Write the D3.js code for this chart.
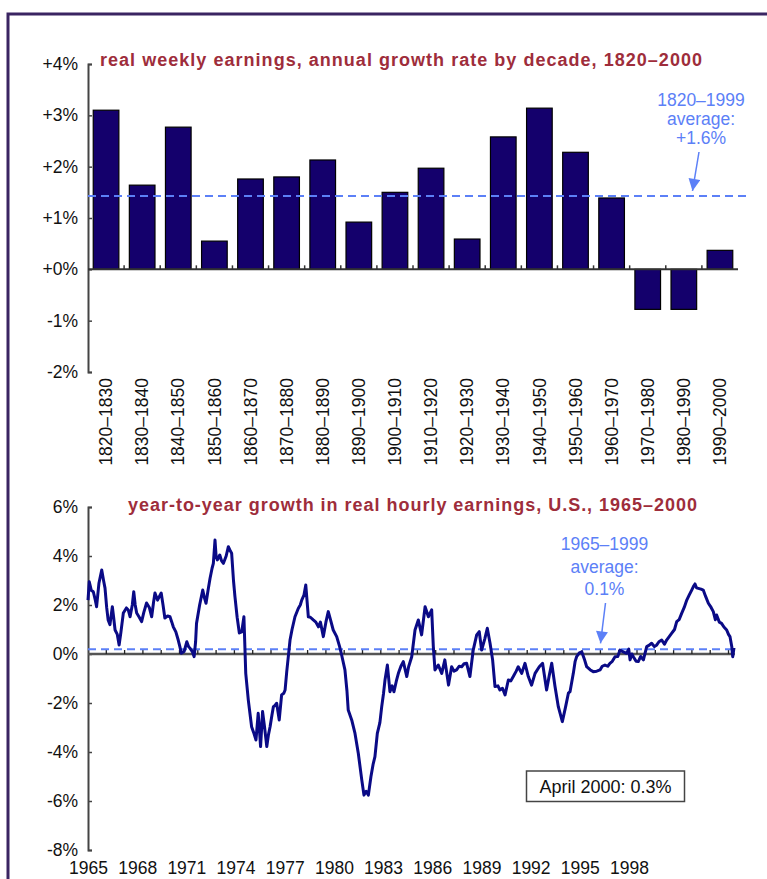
<!DOCTYPE html>
<html><head><meta charset="utf-8">
<script src="https://cdn.jsdelivr.net/npm/d3@7"></script>
<style>
html,body{margin:0;padding:0;background:#fff;}
svg{display:block;font-family:"Liberation Sans",Arial,Helvetica,sans-serif;}
</style></head><body>
<svg id="chart" width="767" height="879"></svg>
<script>
// ---------- DATA ----------
const decades = ["1820–1830","1830–1840","1840–1850","1850–1860","1860–1870","1870–1880","1880–1890","1890–1900","1900–1910","1910–1920","1920–1930","1930–1940","1940–1950","1950–1960","1960–1970","1970–1980","1980–1990","1990–2000"];
const weeklyGrowth = [3.1,1.64,2.77,0.55,1.76,1.8,2.13,0.92,1.5,1.97,0.59,2.58,3.14,2.28,1.39,-0.78,-0.78,0.37];
const weeklyTicks = [4,3,2,1,0,-1,-2];
const weeklyAverage = 1.43;
const weeklyAvgLabel = ["1820–1999","average:","+1.6%"];
const weeklyTitle = "real weekly earnings, annual growth rate by decade, 1820–2000";

const hourlyDates = [1965.00,1965.07,1965.18,1965.29,1965.40,1965.47,1965.60,1965.75,1965.85,1965.93,1966.02,1966.10,1966.20,1966.33,1966.40,1966.48,1966.60,1966.70,1966.80,1966.93,1967.10,1967.20,1967.30,1967.42,1967.50,1967.58,1967.66,1967.80,1967.93,1968.05,1968.20,1968.35,1968.48,1968.58,1968.66,1968.80,1969.00,1969.10,1969.20,1969.35,1969.48,1969.58,1969.66,1969.80,1969.93,1970.02,1970.10,1970.25,1970.40,1970.50,1970.57,1970.70,1970.80,1970.88,1970.93,1971.10,1971.27,1971.36,1971.45,1971.56,1971.67,1971.78,1971.85,1971.94,1972.00,1972.07,1972.20,1972.30,1972.40,1972.55,1972.67,1972.78,1972.85,1972.95,1973.03,1973.15,1973.27,1973.40,1973.52,1973.62,1973.76,1973.94,1974.05,1974.18,1974.30,1974.36,1974.43,1974.54,1974.65,1974.77,1974.86,1974.95,1975.05,1975.13,1975.22,1975.31,1975.45,1975.58,1975.70,1975.77,1975.86,1976.04,1976.15,1976.31,1976.49,1976.60,1976.68,1976.80,1976.90,1977.04,1977.15,1977.31,1977.45,1977.59,1977.70,1977.86,1978.00,1978.13,1978.25,1978.40,1978.59,1978.75,1978.86,1979.04,1979.15,1979.22,1979.41,1979.59,1979.77,1979.96,1980.08,1980.20,1980.32,1980.46,1980.58,1980.68,1980.81,1980.95,1981.05,1981.15,1981.23,1981.36,1981.50,1981.62,1981.72,1981.85,1981.96,1982.10,1982.23,1982.42,1982.52,1982.69,1982.87,1983.05,1983.23,1983.42,1983.60,1983.78,1983.87,1983.96,1984.14,1984.33,1984.50,1984.70,1984.87,1985.00,1985.14,1985.28,1985.42,1985.55,1985.69,1985.87,1986.05,1986.24,1986.38,1986.51,1986.69,1986.82,1986.97,1987.11,1987.24,1987.40,1987.51,1987.65,1987.79,1987.97,1988.10,1988.24,1988.40,1988.51,1988.70,1988.88,1989.06,1989.24,1989.43,1989.66,1989.84,1990.06,1990.20,1990.34,1990.52,1990.70,1990.92,1991.10,1991.25,1991.34,1991.52,1991.62,1991.70,1991.85,1991.98,1992.12,1992.25,1992.45,1992.61,1992.80,1992.98,1993.10,1993.25,1993.40,1993.52,1993.65,1993.80,1993.95,1994.07,1994.25,1994.43,1994.55,1994.62,1994.72,1994.80,1994.95,1995.07,1995.20,1995.35,1995.53,1995.65,1995.80,1995.95,1996.08,1996.20,1996.35,1996.50,1996.62,1996.75,1996.89,1997.05,1997.17,1997.30,1997.44,1997.58,1997.72,1997.85,1997.99,1998.08,1998.17,1998.25,1998.35,1998.50,1998.62,1998.75,1998.90,1999.05,1999.17,1999.28,1999.35,1999.50,1999.62,1999.75,1999.90,2000.00,2000.08,2000.18,2000.23,2000.30];
const hourlyGrowth = [2.2,2.95,2.6,2.54,2.2,1.93,2.9,3.43,3.0,2.69,1.9,1.39,1.2,1.93,1.5,0.98,0.8,0.37,0.9,1.67,1.88,1.8,1.52,2.0,2.54,2.0,1.67,1.5,1.32,1.7,2.08,1.9,1.52,2.1,2.49,2.2,2.49,2.0,1.47,1.55,1.52,1.3,1.11,0.9,0.57,0.3,0.03,0.1,0.5,0.3,0.24,0.1,-0.11,0.5,1.25,2.0,2.61,2.3,2.07,2.6,3.09,3.5,3.7,4.65,4.0,3.84,4.04,3.8,3.7,4.0,4.38,4.2,4.11,3.0,2.34,1.5,0.86,0.9,1.52,-0.79,-1.88,-2.97,-3.2,-3.51,-2.42,-3.0,-3.78,-2.35,-3.0,-3.78,-3.3,-2.97,-2.5,-2.15,-2.1,-2.01,-2.69,-1.67,-1.6,-1.47,-0.72,0.57,1.0,1.52,1.86,2.0,2.2,2.4,2.82,1.52,1.5,1.39,1.3,1.11,1.3,0.71,1.3,1.73,1.4,0.98,0.71,0.3,-0.04,-0.65,-1.5,-2.29,-2.69,-3.24,-4.05,-5.14,-5.76,-5.6,-5.76,-5.01,-4.5,-4.19,-3.24,-2.8,-2.15,-1.6,-1.06,-0.45,-1.54,-1.3,-1.54,-1.1,-0.79,-0.5,-0.31,-0.92,-0.52,-0.11,0.98,1.39,0.78,1.93,1.52,1.8,0.3,-0.65,-0.45,-0.79,-0.24,-1.27,-0.52,-0.7,-0.65,-0.5,-0.52,-0.4,-0.38,-0.92,0.16,0.78,0.91,0.16,0.64,1.05,0.44,-0.24,-1.33,-1.3,-1.47,-1.4,-1.67,-1.06,-1.1,-0.92,-0.7,-0.52,-0.79,-0.38,-0.92,-1.27,-0.79,-0.52,-0.38,-1.47,-0.9,-0.38,-1.33,-2.15,-2.76,-2.15,-1.6,-1.54,-0.79,-0.3,-0.11,0.05,0.09,-0.2,-0.52,-0.65,-0.72,-0.7,-0.65,-0.5,-0.45,-0.5,-0.38,-0.3,-0.11,-0.1,0.16,0.09,0.03,0.2,-0.24,0.0,-0.11,-0.3,-0.31,-0.1,-0.24,0.3,0.35,0.44,0.3,0.37,0.5,0.57,0.4,0.57,0.7,0.84,1.0,1.32,1.4,1.66,1.9,2.2,2.4,2.61,2.75,2.86,2.7,2.68,2.65,2.61,2.35,2.07,1.9,1.73,1.4,1.59,1.3,1.25,1.1,0.98,0.8,0.71,0.3,-0.11,0.25];
const hourlyTicks = [6,4,2,0,-2,-4,-6,-8];
const hourlyYearLabels = ["1965","1968","1971","1974","1977","1980","1983","1986","1989","1992","1995","1998"];
const hourlyAverage = 0.19;
const hourlyAvgLabel = ["1965–1999","average:","0.1%"];
const hourlyTitle = "year-to-year growth in real hourly earnings, U.S., 1965–2000";
const latestNote = "April 2000: 0.3%";

// ---------- STYLE ----------
const titleColor = "#9e2d3b", annColor = "#5c80f7", barColor = "#14006c", lineColor = "#0a0a86";
const axisColor = "#444", fs = 17.5;

const svg = d3.select("#chart");
svg.append("path").attr("d","M8,879V14H767").attr("fill","none").attr("stroke","#3a2562").attr("stroke-width",3);

svg.append("defs").append("marker").attr("id","arr").attr("viewBox","0 0 10 10")
  .attr("refX",10).attr("refY",5).attr("markerWidth",14).attr("markerHeight",12)
  .attr("markerUnits","userSpaceOnUse").attr("orient","auto")
  .append("path").attr("d","M0,0L10,5L0,10Z").attr("fill",annColor);

function styleAxis(g){
  g.select(".domain").attr("stroke",axisColor).attr("stroke-width",2);
  g.selectAll(".tick line").attr("stroke",axisColor).attr("stroke-width",1.5);
  g.selectAll(".tick text").attr("fill","#111").style("font-size",fs+"px");
}

// ---------- TOP CHART ----------
const x1 = d3.scaleBand().domain(decades).range([88,738]).paddingInner(0.29).paddingOuter(0.145);
const y1 = d3.scaleLinear().domain([-2,4]).range([372,64]);
const gTop = svg.append("g");

gTop.append("g").attr("transform","translate(88,0)")
  .call(d3.axisLeft(y1).tickValues(weeklyTicks).tickSize(-4).tickPadding(10)
    .tickFormat(d => (d>=0?"+":"")+d+"%"))
  .call(styleAxis);

gTop.selectAll("rect.bar").data(weeklyGrowth).join("rect").attr("class","bar")
  .attr("x",(d,i)=>x1(decades[i])).attr("width",x1.bandwidth())
  .attr("y",d=>y1(Math.max(0,d))).attr("height",d=>Math.abs(y1(d)-y1(0)))
  .attr("fill",barColor).attr("stroke","#000").attr("stroke-width",1.2);

gTop.append("line").attr("x1",88).attr("x2",x1.range()[1]).attr("y1",y1(0)).attr("y2",y1(0))
  .attr("stroke","#333").attr("stroke-width",2);
gTop.selectAll("line.ct").data(decades.slice(1)).join("line").attr("class","ct")
  .attr("x1",d=>x1(d)-x1.step()*x1.paddingInner()/2).attr("x2",d=>x1(d)-x1.step()*x1.paddingInner()/2)
  .attr("y1",y1(0)).attr("y2",y1(0)-4).attr("stroke","#333").attr("stroke-width",1.5);

gTop.selectAll("text.dec").data(decades).join("text").attr("class","dec")
  .attr("transform",d=>`translate(${x1(d)+x1.bandwidth()/2},378) rotate(-90)`)
  .attr("text-anchor","end").attr("dy","0.35em").style("font-size",fs+"px").attr("fill","#111").text(d=>d);

gTop.append("line").attr("x1",88).attr("x2",750).attr("y1",y1(weeklyAverage)).attr("y2",y1(weeklyAverage))
  .attr("stroke",annColor).attr("stroke-width",2).attr("stroke-dasharray","8,5");
gTop.append("text").attr("x",701).attr("y",106).attr("text-anchor","middle").attr("fill",annColor)
  .style("font-size",fs+"px").selectAll("tspan").data(weeklyAvgLabel).join("tspan")
  .attr("x",701).attr("dy",(d,i)=>i?19:0).text(d=>d);
gTop.append("line").attr("x1",699).attr("y1",152).attr("x2",692.5).attr("y2",y1(weeklyAverage)-5)
  .attr("stroke",annColor).attr("stroke-width",1.5).attr("marker-end","url(#arr)");

gTop.append("text").attr("x",100).attr("y",66).attr("fill",titleColor)
  .attr("textLength",602).attr("lengthAdjust","spacing")
  .style("font-size","18px").style("font-weight","bold").text(weeklyTitle);

// ---------- BOTTOM CHART ----------
const x2 = d3.scaleLinear().domain([1965,2000]).range([88,728.5]);
const xLab = d3.scalePoint().domain(hourlyYearLabels).range([88.5,629.5]);
const y2 = d3.scaleLinear().domain([-8,6]).range([850,507]);
const gBot = svg.append("g");

gBot.append("g").attr("transform","translate(88,0)")
  .call(d3.axisLeft(y2).tickValues(hourlyTicks).tickSize(-4).tickPadding(10).tickFormat(d=>d+"%"))
  .call(styleAxis);

gBot.append("line").attr("x1",88).attr("x2",x2(2000.35)).attr("y1",y2(0)).attr("y2",y2(0))
  .attr("stroke","#555").attr("stroke-width",2.5);
gBot.selectAll("line.yt").data(d3.range(1966,2001)).join("line").attr("class","yt")
  .attr("x1",d=>x2(d)).attr("x2",d=>x2(d)).attr("y1",y2(0)).attr("y2",y2(0)-4)
  .attr("stroke","#222").attr("stroke-width",1.3);

gBot.append("line").attr("x1",88).attr("x2",735).attr("y1",y2(hourlyAverage)).attr("y2",y2(hourlyAverage))
  .attr("stroke",annColor).attr("stroke-width",2).attr("stroke-dasharray","8,5");

const line = d3.line().x((d,i)=>x2(hourlyDates[i])).y(d=>y2(d));
gBot.append("path").attr("d",line(hourlyGrowth)).attr("fill","none")
  .attr("stroke",lineColor).attr("stroke-width",3).attr("stroke-linejoin","round");

gBot.selectAll("text.yl").data(hourlyYearLabels).join("text").attr("class","yl")
  .attr("x",d=>xLab(d)).attr("y",874).attr("text-anchor","middle").style("font-size",fs+"px")
  .attr("fill","#111").text(d=>d);

gBot.append("text").attr("x",604.5).attr("y",550).attr("text-anchor","middle").attr("fill",annColor)
  .style("font-size",fs+"px").selectAll("tspan").data(hourlyAvgLabel).join("tspan")
  .attr("x",604.5).attr("dy",(d,i)=>i?22.5:0).text(d=>d);
gBot.append("line").attr("x1",605.5).attr("y1",603).attr("x2",600.5).attr("y2",y2(hourlyAverage)-6)
  .attr("stroke",annColor).attr("stroke-width",1.5).attr("marker-end","url(#arr)");

gBot.append("text").attr("x",128).attr("y",511).attr("fill",titleColor)
  .attr("textLength",569).attr("lengthAdjust","spacing")
  .style("font-size","18px").style("font-weight","bold").text(hourlyTitle);

gBot.append("rect").attr("x",526.5).attr("y",771).attr("width",158).attr("height",30.5)
  .attr("fill","#fff").attr("stroke","#444").attr("stroke-width",1.5);
gBot.append("text").attr("x",605.5).attr("y",793).attr("text-anchor","middle").style("font-size","18px")
  .attr("fill","#111").text(latestNote);
</script>
</body></html>
